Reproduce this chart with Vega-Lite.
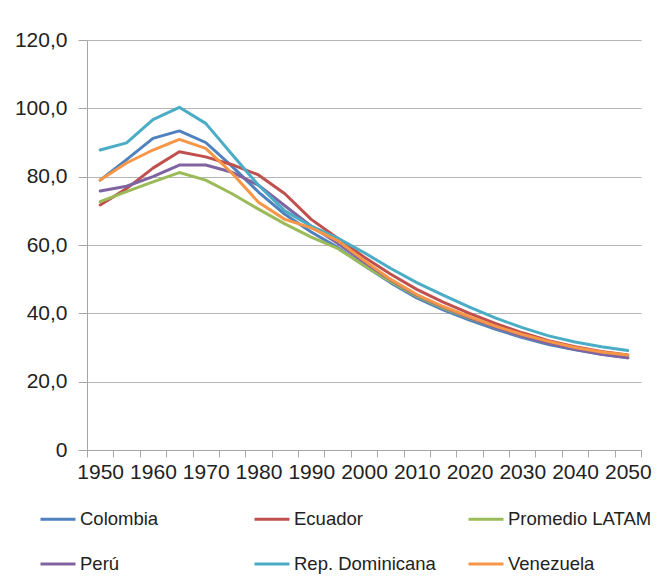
{
  "$schema": "https://vega.github.io/schema/vega-lite/v6.json",
  "width": 554,
  "height": 410,
  "autosize": {"type": "none"},
  "padding": {"left": 87, "top": 40, "right": 17, "bottom": 131},
  "background": "white",
  "config": {
    "view": {"stroke": null},
    "font": "Liberation Sans",
    "axis": {
      "labelFont": "Liberation Sans",
      "labelFontSize": 21,
      "labelColor": "#222222",
      "domainColor": "#a6a6a6",
      "tickColor": "#a6a6a6",
      "gridColor": "#b5b5b5",
      "domainWidth": 1,
      "tickWidth": 1,
      "gridWidth": 1,
      "title": null
    },
    "legend": {
      "labelFont": "Liberation Sans",
      "labelFontSize": 18.5,
      "labelColor": "#222222"
    }
  },
  "data": {
    "values": [
      {"year": 1950, "Colombia": 79.0, "Ecuador": 71.7, "Promedio LATAM": 72.7, "Perú": 75.8, "RepDom": 87.8, "Venezuela": 79.0},
      {"year": 1955, "Colombia": 85.0, "Ecuador": 76.5, "Promedio LATAM": 75.6, "Perú": 77.2, "RepDom": 89.9, "Venezuela": 84.0},
      {"year": 1960, "Colombia": 91.2, "Ecuador": 82.5, "Promedio LATAM": 78.5, "Perú": 80.0, "RepDom": 96.7, "Venezuela": 87.8},
      {"year": 1965, "Colombia": 93.4, "Ecuador": 87.3, "Promedio LATAM": 81.2, "Perú": 83.4, "RepDom": 100.3, "Venezuela": 90.9},
      {"year": 1970, "Colombia": 90.0, "Ecuador": 85.8, "Promedio LATAM": 79.0, "Perú": 83.4, "RepDom": 95.6, "Venezuela": 88.3},
      {"year": 1975, "Colombia": 83.0, "Ecuador": 83.5, "Promedio LATAM": 75.0, "Perú": 81.3, "RepDom": 86.5, "Venezuela": 81.0},
      {"year": 1980, "Colombia": 75.5, "Ecuador": 80.5, "Promedio LATAM": 70.5, "Perú": 77.5, "RepDom": 77.5, "Venezuela": 72.5},
      {"year": 1985, "Colombia": 69.0, "Ecuador": 75.0, "Promedio LATAM": 66.2, "Perú": 71.5, "RepDom": 70.0, "Venezuela": 67.5},
      {"year": 1990, "Colombia": 63.8, "Ecuador": 67.5, "Promedio LATAM": 62.3, "Perú": 65.5, "RepDom": 65.5, "Venezuela": 65.0},
      {"year": 1995, "Colombia": 59.3, "Ecuador": 62.0, "Promedio LATAM": 59.0, "Perú": 60.5, "RepDom": 62.0, "Venezuela": 61.3},
      {"year": 2000, "Colombia": 54.0, "Ecuador": 56.5, "Promedio LATAM": 54.0, "Perú": 55.0, "RepDom": 57.8, "Venezuela": 55.5},
      {"year": 2005, "Colombia": 49.0, "Ecuador": 51.5, "Promedio LATAM": 49.3, "Perú": 49.8, "RepDom": 53.2, "Venezuela": 50.0},
      {"year": 2010, "Colombia": 44.5, "Ecuador": 47.0, "Promedio LATAM": 45.0, "Perú": 45.3, "RepDom": 49.0, "Venezuela": 45.5},
      {"year": 2015, "Colombia": 41.0, "Ecuador": 43.3, "Promedio LATAM": 41.5, "Perú": 41.8, "RepDom": 45.3, "Venezuela": 42.0},
      {"year": 2020, "Colombia": 38.0, "Ecuador": 40.0, "Promedio LATAM": 38.5, "Perú": 38.7, "RepDom": 41.8, "Venezuela": 39.0},
      {"year": 2025, "Colombia": 35.3, "Ecuador": 37.0, "Promedio LATAM": 35.8, "Perú": 35.8, "RepDom": 38.6, "Venezuela": 36.2},
      {"year": 2030, "Colombia": 32.9, "Ecuador": 34.3, "Promedio LATAM": 33.3, "Perú": 33.3, "RepDom": 35.8, "Venezuela": 33.8},
      {"year": 2035, "Colombia": 30.9, "Ecuador": 32.0, "Promedio LATAM": 31.3, "Perú": 31.2, "RepDom": 33.4, "Venezuela": 31.8},
      {"year": 2040, "Colombia": 29.3, "Ecuador": 30.2, "Promedio LATAM": 29.6, "Perú": 29.5, "RepDom": 31.6, "Venezuela": 30.0},
      {"year": 2045, "Colombia": 28.0, "Ecuador": 28.8, "Promedio LATAM": 28.3, "Perú": 28.0, "RepDom": 30.2, "Venezuela": 28.7},
      {"year": 2050, "Colombia": 27.0, "Ecuador": 27.8, "Promedio LATAM": 27.5, "Perú": 27.0, "RepDom": 29.1, "Venezuela": 27.8}
    ]
  },
  "transform": [
    {"fold": ["Colombia", "Ecuador", "Promedio LATAM", "Perú", "RepDom", "Venezuela"], "as": ["key", "value"]},
    {"lookup": "key", "from": {"data": {"values": [
      {"key": "Colombia", "country": "Colombia"},
      {"key": "Ecuador", "country": "Ecuador"},
      {"key": "Promedio LATAM", "country": "Promedio LATAM"},
      {"key": "Perú", "country": "Perú"},
      {"key": "RepDom", "country": "Rep. Dominicana"},
      {"key": "Venezuela", "country": "Venezuela"}
    ]}, "key": "key", "fields": ["country"]}}
  ],
  "mark": {"type": "line", "strokeWidth": 3, "strokeJoin": "round", "strokeCap": "round"},
  "encoding": {
    "x": {
      "field": "year",
      "type": "quantitative",
      "scale": {"domain": [1947.5, 2052.5], "nice": false, "zero": false},
      "axis": {
        "values": [1947.5, 1952.5, 1957.5, 1962.5, 1967.5, 1972.5, 1977.5, 1982.5, 1987.5, 1992.5, 1997.5, 2002.5, 2007.5, 2012.5, 2017.5, 2022.5, 2027.5, 2032.5, 2037.5, 2042.5, 2047.5, 2052.5],
        "labelExpr": "(datum.value - 1947.5) % 10 == 0 ? format(datum.value + 2.5, 'd') : ''",
        "labelOffset": 13.19,
        "labelOverlap": false,
        "labelFlush": false,
        "labelBound": false,
        "tickSize": 7,
        "labelPadding": 4,
        "grid": false
      }
    },
    "y": {
      "field": "value",
      "type": "quantitative",
      "scale": {"domain": [0, 120], "nice": false},
      "axis": {
        "values": [0, 20, 40, 60, 80, 100, 120],
        "labelExpr": "datum.value == 0 ? '0' : replace(format(datum.value, '.1f'), '.', ',')",
        "tickSize": 9,
        "labelPadding": 11,
        "grid": true,
        "labelOverlap": false
      }
    },
    "color": {
      "field": "country",
      "type": "nominal",
      "scale": {
        "domain": ["Colombia", "Ecuador", "Promedio LATAM", "Perú", "Rep. Dominicana", "Venezuela"],
        "range": ["#4F81BD", "#C0504D", "#9BBB59", "#8064A2", "#4BACC6", "#F79646"]
      },
      "legend": {
        "title": null,
        "orient": "none",
        "legendX": -48,
        "legendY": 460,
        "columns": 3,
        "direction": "horizontal",
        "gridAlign": "all",
        "columnPadding": 24,
        "rowPadding": 16,
        "padding": 0,
        "symbolType": "stroke",
        "symbolSize": 1225,
        "symbolStrokeWidth": 3,
        "labelOffset": 3
      }
    }
  }
}
